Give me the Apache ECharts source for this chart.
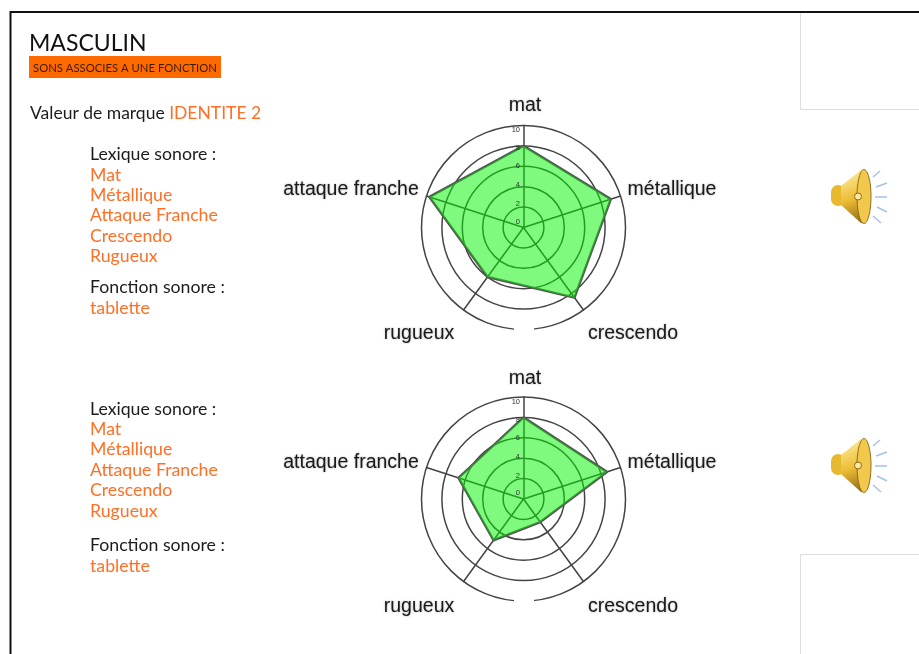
<!DOCTYPE html>
<html>
<head>
<meta charset="utf-8">
<title>Masculin</title>
<script src="https://cdn.jsdelivr.net/npm/echarts@6/dist/echarts.min.js"></script>
<style>
html, body { margin: 0; padding: 0; background: #fff; }
#chart { width: 919px; height: 654px; filter: blur(0.45px); }
</style>
</head>
<body>
<div id="chart"></div>
<script>
// le radar tourne dans le sens inverse des aiguilles : mat, attaque, rugueux, crescendo, metallique
const axes = ['mat', 'attaque franche', 'rugueux', 'crescendo', 'métallique'];
const valuesTop = [8, 9.7, 6, 8.5, 9];
const valuesBottom = [8, 6.7, 5, 2.8, 8.6];
const tickLabels = ['10', '8', '6', '4', '2', '0'];
const lexique = ['Mat', 'Métallique', 'Attaque Franche', 'Crescendo', 'Rugueux'];
const lexiqueTop = [175, 195, 215, 236, 256];
const lexiqueBottom = [429, 449, 470, 490, 511];

const chart = echarts.init(document.getElementById('chart'));
const BODY_FONT = 'Lato';
const ORANGE = '#ff6f26';
const CENTER_X = 523.5;
const CY_TOP = 227.5;
const CY_BOTTOM = 499;
// decalage des noms d'axes par rapport au centre du radar
const nameOffsets = [[1.5, -123], [-172.5, -39], [-104.5, 105], [109.5, 105], [148.5, -39]];
// les graduations de l'image ne tombent pas sur les cercles : position
const tickOffsets = [-97.5, -79.5, -61.5, -42.5, -23.5, -6];

function txt(x, y, text, size, color, extra) {
    return {
        type: 'text', x, y, z: 5,
        style: Object.assign({ text, fontFamily: BODY_FONT, fontSize: size, fill: color, textVerticalAlign: 'middle' }, extra || {})
    };
}

function axisNames(cy, dy) {
    return axes.map((name, i) => ({
        type: 'text', x: CENTER_X + nameOffsets[i][0], y: cy + nameOffsets[i][1] + dy, z: 5,
        style: {
            text: name, fontFamily: 'Liberation Sans', fontSize: 19.5, fill: '#1a1a1a',
            textAlign: 'center', textVerticalAlign: 'middle',
            textShadowColor: 'rgba(0,0,0,0.35)', textShadowBlur: 2
        }
    }));
}

function axisTicks(cy) {
    return tickLabels.map((t, i) => txt(CENTER_X - 3.5, cy + tickOffsets[i], t, 7.5, '#333', {
        fontFamily: 'Liberation Sans', textAlign: 'right'
    }));
}

// haut-parleur, dessiné à partir de (0,0) = coin haut gauche de l'icone
function speaker(x, y) {
    const gold = new echarts.graphic.LinearGradient(0, 0, 0.8, 1, [
        { offset: 0, color: '#fff2a8' },
        { offset: 0.55, color: '#ecbc34' },
        { offset: 1, color: '#8f6a14' }
    ]);
    const rays = [[43, 8, 50, 2], [46, 18, 57, 14], [45, 28, 57, 28], [47, 38, 57, 43], [43, 47, 51, 54]];
    return {
        type: 'group', x, y, z: 5,
        children: [
            { type: 'rect', shape: { x: 1, y: 16, width: 14, height: 21, r: 7 }, style: { fill: '#e8b92f' } },
            { type: 'polygon', shape: { points: [[11, 17], [31, 1], [36, 1], [36, 54], [31, 54], [11, 36]] }, style: { fill: gold } },
            { type: 'ellipse', shape: { cx: 34, cy: 27.5, rx: 7, ry: 27 }, style: { fill: '#f2c84c', stroke: '#8c6c1c', lineWidth: 1 } },
            { type: 'circle', shape: { cx: 28, cy: 27.5, r: 3.5 }, style: { fill: '#fbe9a0', stroke: '#8c6c1c', lineWidth: 1 } }
        ].concat(rays.map(r => ({
            type: 'line', shape: { x1: r[0], y1: r[1], x2: r[2], y2: r[3] },
            style: { stroke: '#a9c0e0', lineWidth: 1.5 }
        })))
    };
}

function lexiqueBlock(lines, fonctionY, tabletteY, headY) {
    const out = [txt(90, headY, 'Lexique sonore :', 17.7, '#1c1c1c')];
    lexique.forEach((t, i) => out.push(txt(90, lines[i], t, 17.7, ORANGE)));
    out.push(txt(90, fonctionY, 'Fonction sonore :', 17.7, '#1c1c1c'));
    out.push(txt(90, tabletteY, 'tablette', 17.7, ORANGE));
    return out;
}

function radarOpt(cy) {
    return {
        center: [CENTER_X, cy],
        radius: 102,
        startAngle: 90,
        splitNumber: 5,
        shape: 'circle',
        axisName: { show: false },
        axisLine: { lineStyle: { color: '#444', width: 1.5 } },
        axisTick: { show: false },
        axisLabel: { show: false },
        splitLine: { lineStyle: { color: '#444', width: 1.5 } },
        splitArea: { show: false },
        indicator: axes.map(name => ({ name, min: 0, max: 10 }))
    };
}

function radarSeries(radarIndex, values) {
    return {
        type: 'radar',
        radarIndex,
        symbol: 'none',
        silent: true,
        lineStyle: { color: '#555', width: 2.5 },
        areaStyle: { color: '#00f500', opacity: 0.5 },
        data: [{ value: values }]
    };
}

chart.setOption({
    animation: false,
    backgroundColor: '#fff',
    radar: [radarOpt(CY_TOP), radarOpt(CY_BOTTOM)],
    series: [radarSeries(0, valuesTop), radarSeries(1, valuesBottom)],
    graphic: [
        // cadre et cases grises
        { type: 'polyline', z: 4, shape: { points: [[919, 12], [10.5, 12], [10.5, 654]] }, style: { fill: 'none', stroke: '#111', lineWidth: 2 } },
        { type: 'polyline', z: 4, shape: { points: [[800.5, 13], [800.5, 109.5], [919, 109.5]] }, style: { fill: 'none', stroke: '#ddd', lineWidth: 1 } },
        { type: 'polyline', z: 4, shape: { points: [[919, 554.5], [800.5, 554.5], [800.5, 654]] }, style: { fill: 'none', stroke: '#ddd', lineWidth: 1 } },
        // coupures dans le cercle exterieur sous les deux radars
        { type: 'rect', z: 3, shape: { x: 514, y: 326, width: 20, height: 6 }, style: { fill: '#fff' } },
        { type: 'rect', z: 3, shape: { x: 514, y: 598, width: 20, height: 6 }, style: { fill: '#fff' } },
        // titre
        txt(29, 44, 'MASCULIN', 23, '#111'),
        { type: 'rect', z: 4, shape: { x: 29, y: 56, width: 192, height: 22 }, style: { fill: '#ff6a00' } },
        txt(33, 68, 'SONS ASSOCIES A UNE FONCTION', 11.3, '#3a1c00'),
        {
            type: 'text', x: 30, y: 113, z: 5,
            style: {
                text: '{a|Valeur de marque }{b|IDENTITE 2}', fontFamily: BODY_FONT, textVerticalAlign: 'middle',
                rich: {
                    a: { fontFamily: BODY_FONT, fontSize: 17.5, fill: '#1c1c1c' },
                    b: { fontFamily: BODY_FONT, fontSize: 17.5, fill: ORANGE }
                }
            }
        }
    ]
        .concat(lexiqueBlock(lexiqueTop, 287, 308, 154))
        .concat(lexiqueBlock(lexiqueBottom, 545, 566, 409))
        .concat(axisNames(CY_TOP, 1), axisNames(CY_BOTTOM, 2.5))
        .concat(axisTicks(CY_TOP), axisTicks(CY_BOTTOM))
        .concat([speaker(830, 169), speaker(830, 438)])
});
</script>
</body>
</html>
